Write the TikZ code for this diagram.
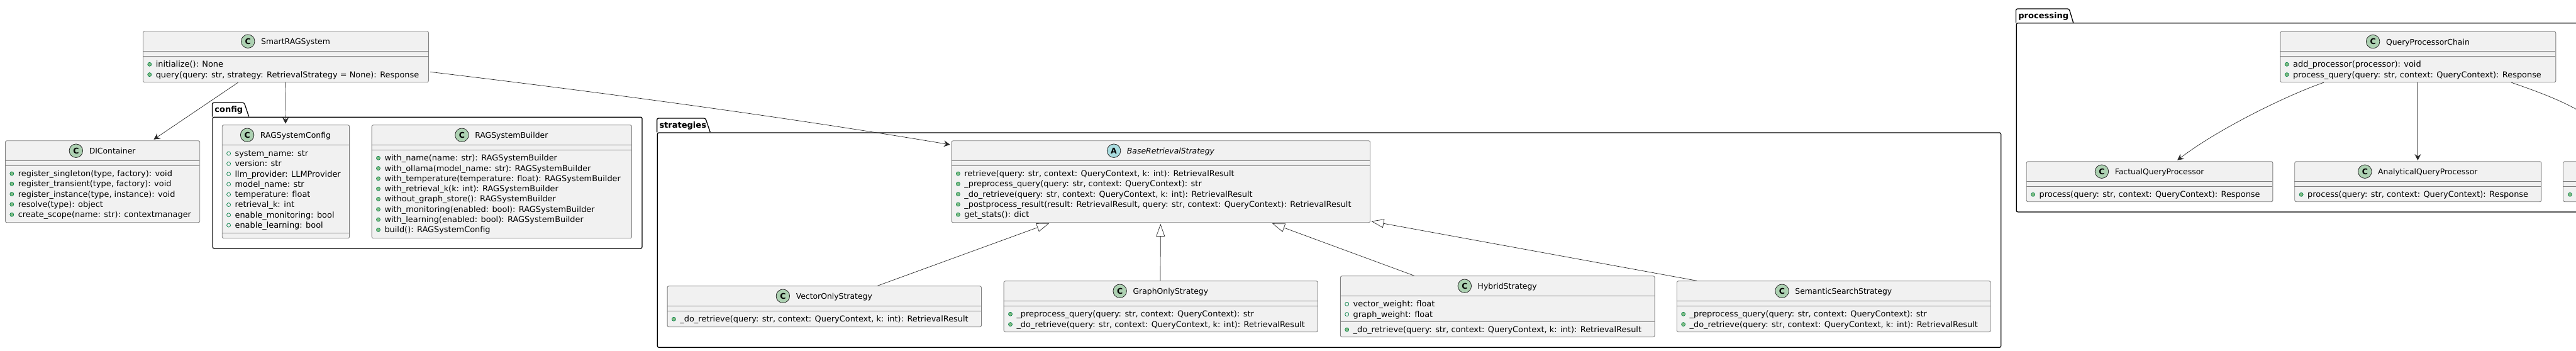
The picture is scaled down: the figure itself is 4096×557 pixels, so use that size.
\documentclass[tikz,border=0pt]{standalone}
\usepackage{fontspec}
\setmainfont{DejaVu Sans}
\usetikzlibrary{calc,arrows.meta}
\definecolor{boxfill}{HTML}{F1F1F1}
\definecolor{boxline}{HTML}{7F7F7F}
\definecolor{iconC}{HTML}{ADD1B2}
\definecolor{iconA}{HTML}{A9DCDF}
\definecolor{dotfill}{HTML}{84BE84}
\definecolor{dotline}{HTML}{038048}
\definecolor{wire}{HTML}{2A2A2A}
\newcommand{\rowfont}{\fontsize{12.9}{15}\selectfont}
\newcommand{\titlefont}{\fontsize{12.4}{15}\selectfont}
\newcommand{\pkgfont}{\fontsize{13}{15}\selectfont\bfseries}
\tikzset{
  classbox/.style={draw=boxline,fill=boxfill,line width=0.9pt,rounded corners=2.5pt,inner sep=0pt,anchor=north west},
  classsep/.style={draw=boxline,line width=0.9pt},
  pkgbody/.style={draw=black,line width=1.3pt,rounded corners=2.5pt,inner sep=0pt,anchor=north west},
  pkgtab/.style={draw=black,line width=1.3pt,rounded corners=2.5pt},
  pkglabel/.style={anchor=base west,inner sep=0pt,font=\pkgfont},
  titletext/.style={anchor=base,inner sep=0pt,font=\titlefont},
  rowtext/.style={anchor=base west,inner sep=0pt,font=\rowfont},
  classicon/.style={circle,draw=black!85,line width=0.8pt,minimum size=21.5pt,inner sep=0pt,font=\fontsize{12.5}{14}\selectfont\bfseries},
  pubdot/.style={circle,draw=dotline,fill=dotfill,line width=0.7pt,minimum size=6pt,inner sep=0pt},
  attrdot/.style={circle,draw=dotline,line width=0.7pt,minimum size=6pt,inner sep=0pt},
  assoc/.style={draw=wire,line width=0.7pt,-{Stealth[length=10pt,width=10pt,inset=3.5pt]}},
  inherit/.style={draw=wire,line width=0.7pt,-{Triangle[length=20pt,width=14pt,fill=white]}},
  plainwire/.style={draw=wire,line width=0.7pt},
}
% name, x1, y1, x2, y2, header bottom, second separator, icon letter, title
\newcommand{\umlclass}[9]{%
  \node[classbox,minimum width={(#4-#2)*1pt},minimum height={(#5-#3)*1pt}] (#1) at (#2,#3) {};
  \draw[classsep] (#2,#6) -- (#4,#6);
  \draw[classsep] (#2,#7) -- (#4,#7);
  \xdef\curleft{#2}%
  \pgfmathsetmacro{\titlex}{(#2+#4)/2+16}%
  \pgfmathsetmacro{\titley}{#3+21.4}%
  \pgfmathsetmacro{\icony}{#3+16.4}%
  \node[titletext] (#1-title) at (\titlex,\titley) {#9};
  \node[classicon,fill=icon#8] (#1-icon) at ($(#1-title.west |- 0,\icony)+(-20.7,0)$) {#8};
}
% box name, dot style, first row y, rows
\newcommand{\umlrows}[4]{%
  \pgfmathsetmacro{\dotx}{\curleft+10.8}%
  \pgfmathsetmacro{\txtx}{\curleft+20.6}%
  \foreach \rowtxt [count=\i from 0] in {#4} {
    \pgfmathsetmacro{\rowy}{#3+16.3*\i}%
    \pgfmathsetmacro{\basey}{\rowy+4.4}%
    \node[#2] (#1-dot#3-\i) at (\dotx,\rowy) {};
    \node[rowtext] (#1-row#3-\i) at (\txtx,\basey) {\rowtxt};
  }
}
% name, x1, tab top, x2, body top, bottom, tab right top, tab right bottom, label
\newcommand{\umlpkg}[9]{%
  \node[pkgbody,minimum width={(#4-#2)*1pt},minimum height={(#6-#5)*1pt}] (#1) at (#2,#5) {};
  \draw[pkgtab] (#2,#5) -- (#2,#3) -- (#7,#3) -- (#8,#5);
  \pgfmathsetmacro{\lx}{#2+3.7}%
  \pgfmathsetmacro{\ly}{#5-6.7}%
  \node[pkglabel] (#1-label) at (\lx,\ly) {#9};
}
\begin{document}
\begin{tikzpicture}[x=1pt,y=-1pt]
\useasboundingbox (0,0) rectangle (4096,557);
\clip (0,0) rectangle (4096,557);
% packages
\umlpkg{config}{337.5}{163.3}{1020.4}{185.5}{394.3}{388.3}{395.7}{config}
\umlpkg{strategies}{1044.6}{188}{3181}{210.3}{551.7}{1121.7}{1129.3}{strategies}
\umlpkg{processing}{3205.5}{14}{4100}{36}{336.3}{3290}{3296.6}{processing}
% classes
\umlclass{smart}{227}{49.3}{681}{130.3}{81.7}{89.3}{C}{SmartRAGSystem}
\umlrows{smart}{pubdot}{102.3}{initialize(): None,{query(query: str, strategy: RetrievalStrategy = None): Response}}
\umlclass{di}{8}{223.3}{317.3}{353.3}{255.7}{263.3}{C}{DIContainer}
\umlrows{di}{pubdot}{276}{{register\_singleton(type, factory): void},{register\_transient(type, factory): void},{register\_instance(type, instance): void},resolve(type): object,create\_scope(name: str): contextmanager}
\umlclass{cfg}{352.8}{198.3}{555.2}{378.3}{230.3}{370.3}{C}{RAGSystemConfig}
\umlrows{cfg}{attrdot}{244}{system\_name: str,version: str,llm\_provider: LLMProvider,model\_name: str,temperature: float,retrieval\_k: int,enable\_monitoring: bool,enable\_learning: bool}
\umlclass{builder}{590.7}{198.3}{1004}{378.3}{230.3}{238.3}{C}{RAGSystemBuilder}
\umlrows{builder}{pubdot}{251.3}{with\_name(name: str): RAGSystemBuilder,with\_ollama(model\_name: str): RAGSystemBuilder,with\_temperature(temperature: float): RAGSystemBuilder,with\_retrieval\_k(k: int): RAGSystemBuilder,without\_graph\_store(): RAGSystemBuilder,with\_monitoring(enabled: bool): RAGSystemBuilder,with\_learning(enabled: bool): RAGSystemBuilder,build(): RAGSystemConfig}
\umlclass{base}{1512.6}{223.3}{2178.3}{353.3}{255.3}{263.3}{A}{\itshape BaseRetrievalStrategy}
\umlrows{base}{pubdot}{276}{{retrieve(query: str, context: QueryContext, k: int): RetrievalResult},{\_preprocess\_query(query: str, context: QueryContext): str},{\_do\_retrieve(query: str, context: QueryContext, k: int): RetrievalResult},{\_postprocess\_result(result: RetrievalResult, query: str, context: QueryContext): RetrievalResult},get\_stats(): dict}
\umlclass{vector}{1060.6}{454.3}{1560}{519.3}{486.3}{494.3}{C}{VectorOnlyStrategy}
\umlrows{vector}{pubdot}{507.3}{{\_do\_retrieve(query: str, context: QueryContext, k: int): RetrievalResult}}
\umlclass{graph}{1595.7}{446.3}{2095}{527.3}{478.3}{486.3}{C}{GraphOnlyStrategy}
\umlrows{graph}{pubdot}{499.3}{{\_preprocess\_query(query: str, context: QueryContext): str},{\_do\_retrieve(query: str, context: QueryContext, k: int): RetrievalResult}}
\umlclass{hybrid}{2130.9}{438.3}{2630.6}{535.3}{470.3}{511.7}{C}{HybridStrategy}
\umlrows{hybrid}{attrdot}{483.3}{vector\_weight: float,graph\_weight: float}
\umlrows{hybrid}{pubdot}{524}{{\_do\_retrieve(query: str, context: QueryContext, k: int): RetrievalResult}}
\umlclass{semantic}{2665.8}{446.3}{3164.8}{527.3}{478.3}{486.3}{C}{SemanticSearchStrategy}
\umlrows{semantic}{pubdot}{499.3}{{\_preprocess\_query(query: str, context: QueryContext): str},{\_do\_retrieve(query: str, context: QueryContext, k: int): RetrievalResult}}
\umlclass{chain}{3625.4}{49.7}{4063.4}{130.3}{81.3}{89.3}{C}{QueryProcessorChain}
\umlrows{chain}{pubdot}{102.3}{add\_processor(processor): void,{process\_query(query: str, context: QueryContext): Response}}
\umlclass{factual}{3221.8}{256.3}{3613.4}{320.3}{288.3}{296.3}{C}{FactualQueryProcessor}
\umlrows{factual}{pubdot}{309.3}{{process(query: str, context: QueryContext): Response}}
\umlclass{analytical}{3648.3}{256.3}{4040.4}{320.3}{288.3}{296.3}{C}{AnalyticalQueryProcessor}
\umlrows{analytical}{pubdot}{309.3}{{process(query: str, context: QueryContext): Response}}
% third processor, cut by the picture's right edge
\node[classbox,minimum width=25pt,minimum height=64pt] (cutoff) at (4075.3,256.3) {};
\draw[classsep] (4075.3,288.3) -- (4100.3,288.3);
\draw[classsep] (4075.3,296.3) -- (4100.3,296.3);
\node[pubdot] (cutoff-dot) at (4086.4,309.3) {};
% connectors
\draw[assoc] ($(smart.south west)+(151.5,0)$) -- ($(di.north west)+(236.4,-1.6)$);
\draw[assoc] (smart.south) -- ($(cfg.north west)+(101.2,-1.6)$);
\draw[assoc] ($(smart.north east)+(2,65)$) .. controls (950,146) and (1250,186) .. ($(base.north west)+(-1.9,6.7)$);
\draw[inherit] ($(vector.north west)+(334.8,0)$) -- ($(base.south west)+(155.7,0.7)$);
\draw[inherit] ($(graph.north west)+(249.3,0)$) -- ($(base.south west)+(332.7,1.7)$);
\draw[inherit] ($(hybrid.north west)+(117.8,0)$) -- ($(base.south west)+(510.4,1)$);
\draw[inherit] ($(semantic.north west)+(32.2,0)$) -- ($(base.south east)+(1.2,-2.5)$);
\draw[assoc] ($(chain.south west)+(69.4,0)$) .. controls (3640,150) and (3530,203) .. ($(factual.north west)+(240.2,-1.6)$);
\draw[assoc] ($(chain.south west)+(219,0)$) -- ($(analytical.north west)+(196.1,-1.3)$);
\coordinate (offpage) at (4104,178);
\draw[plainwire] ($(chain.south west)+(367.9,0)$) .. controls (4030,144) and (4070,158) .. (offpage);
\end{tikzpicture}
\end{document}
